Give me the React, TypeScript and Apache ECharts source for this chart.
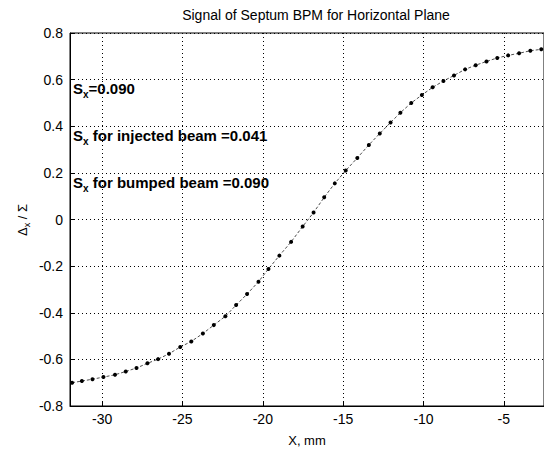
import React, { useEffect, useRef } from "react";
import * as echarts from "echarts";

const titleText = "Signal of Septum BPM for Horizontal Plane";
const xAxisName = "X, mm";
const xTicks = [-30, -25, -20, -15, -10, -5];
const xValues = [-31.87, -31.26, -30.6, -29.92, -29.2, -28.53, -27.86, -27.18, -26.52, -25.84, -25.14, -24.45, -23.73, -23.05, -22.33, -21.66, -20.98, -20.27, -19.65, -18.97, -18.24, -17.52, -16.84, -16.18, -15.52, -14.84, -14.12, -13.4, -12.72, -12.05, -11.44, -10.76, -10.1, -9.43, -8.76, -8.1, -7.41, -6.75, -6.08, -5.41, -4.73, -4.05, -3.35, -2.67];
const yValues = [-0.7, -0.693, -0.685, -0.676, -0.666, -0.652, -0.637, -0.617, -0.599, -0.576, -0.547, -0.523, -0.489, -0.453, -0.415, -0.367, -0.32, -0.267, -0.212, -0.155, -0.096, -0.03, 0.03, 0.095, 0.155, 0.21, 0.264, 0.32, 0.369, 0.416, 0.458, 0.5, 0.534, 0.567, 0.594, 0.618, 0.644, 0.662, 0.678, 0.693, 0.704, 0.713, 0.724, 0.73];
const annotations = [
  { sub: "x", rest: "=0.090" },
  { sub: "x", rest: " for injected beam =0.041" },
  { sub: "x", rest: " for bumped beam =0.090" },
];

const FONT = "'Liberation Sans', Arial, sans-serif";

export default function App() {
  const ref = useRef<HTMLDivElement>(null);
  useEffect(() => {
    if (!ref.current) return;
    const chart = echarts.init(ref.current, null, { renderer: "svg" });
    const data = xValues.map((x, i) => [x, yValues[i]]);
    const annY = [88, 135, 182];
    chart.setOption({
      animation: false,
      backgroundColor: "#fff",
      title: {
        text: titleText,
        left: 311,
        top: 3,
        textAlign: "center",
        textStyle: { fontFamily: FONT, fontSize: 14, fontWeight: "normal", color: "#000" },
      },
      grid: { left: 70, top: 33, width: 475, height: 379, show: true, borderColor: "#000", borderWidth: 1 },
      xAxis: {
        type: "value",
        min: -32,
        max: -2.5,
        name: xAxisName,
        nameLocation: "middle",
        nameGap: 28,
        nameTextStyle: { fontFamily: FONT, fontSize: 13, color: "#000" },
        axisLine: { show: true, onZero: false, lineStyle: { color: "#000", width: 1 } },
        axisTick: { show: true, inside: true, length: 4, lineStyle: { color: "#000" }, customValues: xTicks },
        axisLabel: {
          fontFamily: FONT,
          fontSize: 14,
          color: "#000",
          margin: 6,
          customValues: xTicks,
        },
        splitLine: { show: false },
      },
      yAxis: {
        type: "value",
        min: -0.8,
        max: 0.8,
        interval: 0.2,
        axisLine: { show: true, lineStyle: { color: "#000", width: 1 } },
        axisTick: { show: true, inside: true, length: 4, lineStyle: { color: "#000" } },
        axisLabel: {
          fontFamily: FONT,
          fontSize: 14,
          color: "#000",
          margin: 7,
          formatter: (v: number) => (Math.abs(v) < 1e-9 ? "0" : v.toFixed(1)),
        },
        splitLine: { show: true, lineStyle: { color: "#000", type: [1, 3], width: 1 } },
      },
      series: [
        {
          type: "line",
          data,
          symbol: "circle",
          symbolSize: 4,
          itemStyle: { color: "#000" },
          lineStyle: { color: "#222", width: 0.8, type: [3, 2] },
          markLine: {
            silent: true,
            symbol: "none",
            label: { show: false },
            lineStyle: { color: "#000", type: [1, 3], width: 1 },
            data: xTicks.map((v) => ({ xAxis: v })),
          },
          z: 3,
        },
      ],
      graphic: [
        {
          type: "text",
          x: 22,
          y: 220,
          rotation: Math.PI / 2,
          style: {
            text: "{a|Δ}{s|x}{a| / Σ}",
            align: "center",
            verticalAlign: "middle",
            fill: "#000",
            rich: {
              a: { fontFamily: FONT, fontSize: 13, color: "#000", lineHeight: 18, verticalAlign: "middle" },
              s: { fontFamily: FONT, fontSize: 9, color: "#000", lineHeight: 18, verticalAlign: "bottom" },
            },
          },
        },
        ...annotations.map((a, i) => ({
          type: "text",
          x: 73,
          y: annY[i],
          style: {
            text: `{m|S}{s|${a.sub}}{m|${a.rest}}`,
            verticalAlign: "middle",
            fill: "#000",
            rich: {
              m: { fontFamily: FONT, fontSize: 15, fontWeight: "bold", color: "#000", lineHeight: 22, verticalAlign: "middle" },
              s: { fontFamily: FONT, fontSize: 10, fontWeight: "bold", color: "#000", lineHeight: 22, verticalAlign: "bottom" },
            },
          },
        })),
      ],
    });
    return () => chart.dispose();
  }, []);
  return <div ref={ref} style={{ position: "fixed", left: 0, top: 0, width: 544, height: 452, background: "#fff" }} />;
}
